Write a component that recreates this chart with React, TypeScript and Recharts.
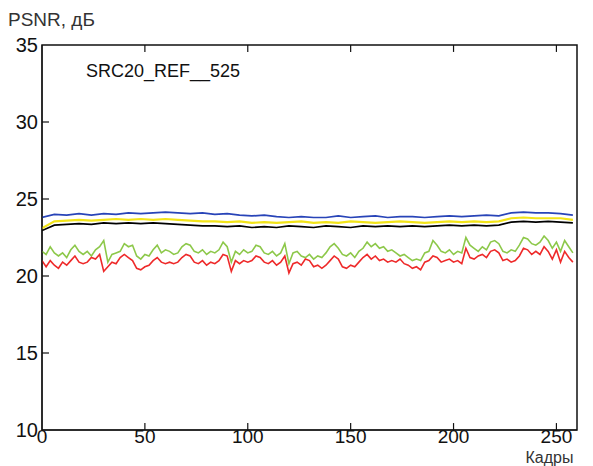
import React from "react";
import { LineChart, Line, XAxis, YAxis, ReferenceLine, ReferenceArea } from "recharts";

// sampling grids (frame numbers)
const fineFrames = Array.from({ length: 130 }, (_, i) => i * 2);
const coarseFrames = Array.from({ length: 44 }, (_, i) => i * 6);

const xTicks = [0, 50, 100, 150, 200, 250];
const yTicks = [10, 15, 20, 25, 30, 35];

const blueVals = [
  23.8, 24.0, 23.95, 24.05, 23.95, 24.05, 24.0, 24.1, 24.05, 24.1, 24.15, 24.1, 24.05, 24.1, 24.0,
  24.05, 23.95, 23.9, 23.95, 23.85, 23.8, 23.85, 23.8, 23.8, 23.9, 23.8, 23.85, 23.9, 23.8, 23.85,
  23.85, 23.8, 23.85, 23.9, 23.85, 23.9, 23.95, 23.9, 24.1, 24.15, 24.1, 24.1, 24.05, 23.95,
];

const yellowVals = [
  23.1, 23.55, 23.6, 23.65, 23.6, 23.65, 23.7, 23.65, 23.7, 23.65, 23.7, 23.65, 23.6, 23.55, 23.55,
  23.5, 23.55, 23.45, 23.5, 23.45, 23.5, 23.55, 23.45, 23.5, 23.45, 23.55, 23.5, 23.45, 23.5, 23.55,
  23.5, 23.45, 23.5, 23.55, 23.5, 23.55, 23.5, 23.55, 23.75, 23.8, 23.75, 23.75, 23.75, 23.65,
];

const blackVals = [
  22.95, 23.3, 23.35, 23.4, 23.35, 23.45, 23.4, 23.45, 23.4, 23.45, 23.4, 23.35, 23.3, 23.25, 23.25,
  23.2, 23.25, 23.15, 23.2, 23.15, 23.25, 23.2, 23.15, 23.25, 23.2, 23.15, 23.25, 23.2, 23.25, 23.2,
  23.25, 23.2, 23.25, 23.3, 23.25, 23.3, 23.25, 23.3, 23.5, 23.55, 23.5, 23.55, 23.5, 23.45,
];

const greenVals = [
  21.6, 21.4, 21.9, 21.5, 21.3, 21.5, 21.2, 21.7, 22.0, 21.6, 21.4, 21.6, 21.3, 21.7, 21.9, 22.3,
  20.9, 21.4, 21.5, 21.6, 22.1, 21.9, 22.0, 21.3, 21.1, 21.4, 21.3, 21.7, 22.0, 21.5, 21.7, 21.6,
  21.4, 21.5, 21.9, 22.1, 22.0, 21.6, 21.5, 21.7, 21.4, 21.6, 21.5, 21.7, 22.2, 21.9, 20.9, 21.6,
  21.4, 21.7, 21.5, 21.6, 22.0, 21.9, 21.5, 21.4, 21.6, 21.3, 21.5, 22.1, 20.8, 21.5, 21.6,
  21.3, 21.2, 21.4, 21.1, 21.3, 21.2, 21.5, 21.9, 22.1, 21.8, 21.4, 21.3, 21.5, 21.2, 21.6, 21.8,
  22.2, 21.9, 22.1, 21.8, 21.9, 21.6, 21.7, 21.5, 21.3, 21.4, 21.2, 21.0, 21.1, 21.0, 21.5, 21.6,
  22.3, 22.0, 21.6, 21.5, 21.7, 21.4, 21.6, 21.5, 22.5, 22.0, 21.8, 21.6, 21.9, 21.7, 22.2, 22.3,
  22.1, 21.6, 21.5, 21.7, 21.6, 22.0, 22.5, 22.4, 22.1, 22.0, 22.2, 22.6, 22.3, 21.8, 22.2, 21.6,
  22.3, 21.9, 21.5,
];

const redVals = [
  21.0, 20.6, 21.0, 20.7, 20.5, 20.9, 20.7, 21.0, 21.3, 20.9, 20.8, 20.9, 21.2, 21.1, 21.4, 20.3,
  20.6, 20.9, 20.8, 21.2, 21.4, 21.2, 21.0, 20.5, 20.4, 20.6, 20.7, 21.0, 21.2, 20.9, 20.8, 20.9,
  20.8, 20.9, 21.2, 21.4, 21.3, 20.9, 20.8, 21.0, 20.7, 20.9, 20.8, 21.0, 21.4, 21.3, 20.3, 21.0,
  20.8, 21.0, 20.9, 21.0, 21.3, 21.2, 20.9, 20.8, 21.0, 20.7, 20.9, 21.3, 20.2, 20.8, 20.9,
  20.7, 21.1, 21.0, 20.6, 20.7, 20.5, 20.7, 21.0, 21.3, 21.1, 20.6, 20.5, 20.7, 20.6, 20.9, 21.2,
  21.4, 21.1, 21.3, 21.0, 21.1, 20.9, 21.0, 20.9, 21.1, 20.8, 20.7, 20.5, 20.6, 20.4, 20.9, 21.0,
  21.3, 21.2, 20.9, 21.0, 21.1, 20.9, 21.0, 20.8, 21.8, 21.2, 21.1, 21.3, 21.4, 21.2, 21.6, 21.7,
  21.5, 21.0, 21.1, 20.9, 21.0, 21.3, 21.8, 21.7, 21.4, 21.6, 21.4, 21.9, 21.6, 21.1, 21.7, 20.9,
  21.6, 21.2, 20.9,
];

const toRows = (frames: number[], vals: number[]) =>
  frames.map((f, i) => ({ f, v: vals[i] }));

const font = "'Liberation Sans', Arial, sans-serif";
const yTickStyle = { fill: "#111", fontSize: 20, fontFamily: font };
const xTickStyle = { fill: "#111", fontSize: 19, fontFamily: font };

export default function App() {
  return (
    <div style={{ position: "absolute", left: 0, top: 0, width: 593, height: 466, background: "#fff" }}>
      <LineChart width={593} height={466} margin={{ top: 45, right: 16, bottom: 0, left: 0 }}>
        <XAxis
          type="number"
          dataKey="f"
          domain={[0, 260]}
          ticks={xTicks}
          allowDataOverflow
          tickLine={false}
          tickSize={0}
          tickMargin={0}
          height={36}
          stroke="#111"
          tick={xTickStyle}
          label={{ value: "Кадры", position: "insideBottomRight", offset: 3.5, style: { fontSize: 16, fontFamily: font, fill: "#333" } }}
        />
        <YAxis
          type="number"
          domain={[10, 35]}
          ticks={yTicks}
          allowDataOverflow
          tickLine={false}
          tickSize={0}
          tickMargin={4}
          width={42}
          stroke="#111"
          tick={yTickStyle}
        />
        <ReferenceArea x1={0} x2={260} y1={10} y2={35} fill="none" stroke="#111" strokeWidth={1.5} />
        {xTicks.slice(1).map((t) => (
          <ReferenceLine key={"b" + t} segment={[{ x: t, y: 10 }, { x: t, y: 10.45 }]} stroke="#111" strokeWidth={1.2} />
        ))}
        {xTicks.slice(1).map((t) => (
          <ReferenceLine key={"t" + t} segment={[{ x: t, y: 35 }, { x: t, y: 34.55 }]} stroke="#111" strokeWidth={1.2} />
        ))}
        {yTicks.slice(1, -1).map((t) => (
          <ReferenceLine key={"l" + t} segment={[{ x: 0, y: t }, { x: 3.4, y: t }]} stroke="#111" strokeWidth={1.2} />
        ))}
        <Line data={toRows(coarseFrames, blackVals)} dataKey="v" stroke="#000" strokeWidth={1.7} dot={false} isAnimationActive={false} />
        <Line data={toRows(coarseFrames, yellowVals)} dataKey="v" stroke="#f2e418" strokeWidth={2.2} dot={false} isAnimationActive={false} />
        <Line data={toRows(coarseFrames, blueVals)} dataKey="v" stroke="#2844b8" strokeWidth={1.7} dot={false} isAnimationActive={false} />
        <Line data={toRows(fineFrames, greenVals)} dataKey="v" stroke="#8dc84a" strokeWidth={1.6} dot={false} isAnimationActive={false} />
        <Line data={toRows(fineFrames, redVals)} dataKey="v" stroke="#ee2a2a" strokeWidth={1.6} dot={false} isAnimationActive={false} />
      </LineChart>
      <div style={{ position: "absolute", left: 8, top: 9, fontFamily: font, fontSize: 19, color: "#333", whiteSpace: "nowrap" }}>
        PSNR, дБ
      </div>
      <div style={{ position: "absolute", left: 86, top: 61, fontFamily: font, fontSize: 18, color: "#111", whiteSpace: "nowrap" }}>
        SRC20_REF__525
      </div>
    </div>
  );
}
